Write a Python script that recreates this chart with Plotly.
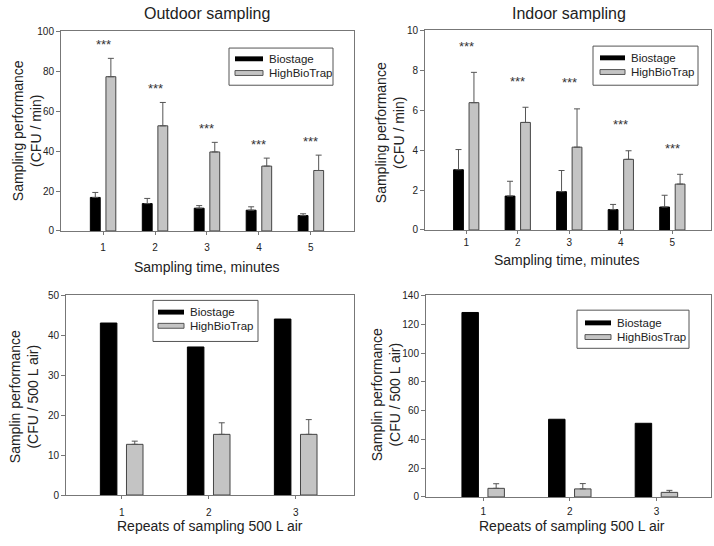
import plotly.graph_objects as go

# sampling time (min) panels
times = [1, 2, 3, 4, 5]
outdoor_bio = [16.8, 13.7, 11.4, 10.4, 7.7]
outdoor_bio_err = [2.5, 2.6, 1.3, 1.7, 0.9]
outdoor_hbt = [77.3, 52.7, 39.6, 32.5, 30.3]
outdoor_hbt_err = [9.2, 11.7, 4.8, 4.0, 7.7]

indoor_bio = [3.02, 1.70, 1.92, 1.02, 1.15]
indoor_bio_err = [1.01, 0.74, 1.06, 0.26, 0.59]
indoor_hbt = [6.38, 5.39, 4.15, 3.54, 2.30]
indoor_hbt_err = [1.52, 0.76, 1.92, 0.43, 0.49]

# repeats of 500 L air panels
repeats = [1, 2, 3]
rep_out_bio = [43.1, 37.1, 44.1]
rep_out_hbt = [12.7, 15.2, 15.2]
rep_out_hbt_err = [0.8, 2.9, 3.7]

rep_in_bio = [128.2, 54.0, 51.2]
rep_in_hbt = [6.0, 5.6, 3.2]
rep_in_hbt_err = [3.2, 3.7, 1.4]

stars = "***"

FONT = "Liberation Sans, Arial, sans-serif"
W, H = 714, 546
BLACK = "black"
GREY = "#c4c4c4"


def px_x(p):
    return p / W


def px_y(p):
    return 1 - p / H


fig = go.Figure()


def add_panel(n, x, bio, hbt, bio_err, hbt_err, hbt_name):
    xa = "x" if n == 1 else "x%d" % n
    ya = "y" if n == 1 else "y%d" % n
    eb = dict(symmetric=False, color="#555", thickness=1, width=3)
    fig.add_trace(go.Bar(
        x=x, y=bio, name="Biostage", xaxis=xa, yaxis=ya, showlegend=False,
        width=0.19, offset=-0.245,
        marker=dict(color=BLACK, line=dict(color=BLACK, width=1)),
        error_y=dict(type="data", array=bio_err, arrayminus=[0] * len(x), **eb) if bio_err else None,
    ))
    fig.add_trace(go.Bar(
        x=x, y=hbt, name=hbt_name, xaxis=xa, yaxis=ya, showlegend=False,
        width=0.19, offset=0.055,
        marker=dict(color=GREY, line=dict(color="#444", width=1)),
        error_y=dict(type="data", array=hbt_err, arrayminus=[0] * len(x), **eb),
    ))


add_panel(1, times, outdoor_bio, outdoor_hbt, outdoor_bio_err, outdoor_hbt_err, "HighBioTrap")
add_panel(2, times, indoor_bio, indoor_hbt, indoor_bio_err, indoor_hbt_err, "HighBioTrap")
add_panel(3, repeats, rep_out_bio, rep_out_hbt, None, rep_out_hbt_err, "HighBioTrap")
add_panel(4, repeats, rep_in_bio, rep_in_hbt, None, rep_in_hbt_err, "HighBiosTrap")

# plot areas in pixels: left, right, top, bottom
boxes = {
    1: (61, 354, 26, 230),
    2: (425, 711, 25, 229),
    3: (66, 354, 296, 500),
    4: (426, 711, 296, 502),
}
xranges = {1: [0.19, 5.83], 2: [0.2, 5.75], 3: [0.36, 3.67], 4: [0.34, 3.63]}
yranges = {1: [0, 100], 2: [0, 10], 3: [0, 50], 4: [0, 140]}
ydticks = {1: 20, 2: 2, 3: 10, 4: 20}
xstandoff = {1: 4, 2: 0, 3: 5, 4: 2}

axis_common = dict(
    showline=True, linecolor="#777", linewidth=1, mirror=True,
    showgrid=False, zeroline=False, ticks="outside",
    tickcolor="#777", tickfont=dict(family=FONT, size=10, color="#222"),
)

layout = {}
for n, (l, r, t, b) in boxes.items():
    sx = "" if n == 1 else str(n)
    layout["xaxis" + sx] = dict(
        domain=[px_x(l), px_x(r)], range=xranges[n], anchor="y" + sx,
        tickmode="linear", tick0=1, dtick=1, ticklen=3,
        ticklabelstandoff=xstandoff[n], **axis_common,
    )
    layout["yaxis" + sx] = dict(
        domain=[px_y(b), px_y(t)], range=yranges[n], anchor="x" + sx,
        tickmode="linear", tick0=0, dtick=ydticks[n], ticklen=4, **axis_common,
    )
fig.update_layout(**layout)

ann = []
shapes = []


def text(x, y, s, size, angle=0, anchor="center"):
    ann.append(dict(
        x=px_x(x), y=px_y(y), xref="paper", yref="paper", text=s,
        showarrow=False, textangle=angle, xanchor=anchor, yanchor="middle",
        font=dict(family=FONT, size=size, color="#222"),
    ))


def rect(x0, y0, x1, y1, fill, line, lw=1):
    shapes.append(dict(
        type="rect", xref="paper", yref="paper",
        x0=px_x(x0), x1=px_x(x1), y0=px_y(y1), y1=px_y(y0),
        fillcolor=fill, line=dict(color=line, width=lw),
    ))


def legend(l, t, r, b, sw_l, sw_r, rows, hbt_name):
    rect(l, t, r, b, "white", "#555")
    rect(sw_l, rows[0] - 2.5, sw_r, rows[0] + 2.5, BLACK, BLACK, 0)
    rect(sw_l, rows[1] - 2.5, sw_r, rows[1] + 2.5, GREY, "#555")
    text(sw_r + 4, rows[0], "Biostage", 11.5, anchor="left")
    text(sw_r + 4, rows[1], hbt_name, 11.5, anchor="left")


legend(229, 43, 333, 81, 235, 263, (54, 68.5), "HighBioTrap")
legend(593, 41, 698, 81, 600, 625, (53, 67.5), "HighBioTrap")
legend(153, 301, 258, 343, 158, 184, (313, 327), "HighBioTrap")
legend(577, 311, 689, 350, 585, 611, (324, 338.5), "HighBiosTrap")

text(207, 8, "Outdoor sampling", 16)
text(569, 8, "Indoor sampling", 16)
text(207, 267, "Sampling time, minutes", 14)
text(567, 260, "Sampling time, minutes", 14)
text(210, 532, "Repeats of sampling 500 L air", 14)
text(572, 532, "Repeats of sampling 500 L air", 14)
text(27, 128, "Sampling performance<br>(CFU / min)", 14, -90)
text(390, 129, "Sampling performance<br>(CFU / min)", 14, -90)
text(24, 400, "Samplin performance<br>(CFU / 500 L air)", 14, -90)
text(386, 398, "Samplin performance<br>(CFU / 500 L air)", 14, -90)

# significance stars above the HighBioTrap error bars
for n, x, top_vals, errs, shift in [
    (1, times, outdoor_hbt, outdoor_hbt_err, 14),
    (2, times, indoor_hbt, indoor_hbt_err, 26),
]:
    sx = "" if n == 1 else str(n)
    for xi, v, e in zip(x, top_vals, errs):
        ann.append(dict(
            x=xi, y=v + e, xref="x" + sx, yref="y" + sx, text=stars,
            showarrow=False, xanchor="center", yanchor="middle", yshift=shift,
            font=dict(family=FONT, size=13, color="#333"),
        ))

fig.update_layout(
    annotations=ann,
    shapes=shapes,
    barmode="overlay",
    width=W, height=H,
    margin=dict(l=0, r=0, t=0, b=0),
    paper_bgcolor="white", plot_bgcolor="white",
    font=dict(family=FONT),
)

fig.write_html("out.html", config={"displayModeBar": False},
               post_script="document.body.style.margin='0';")
